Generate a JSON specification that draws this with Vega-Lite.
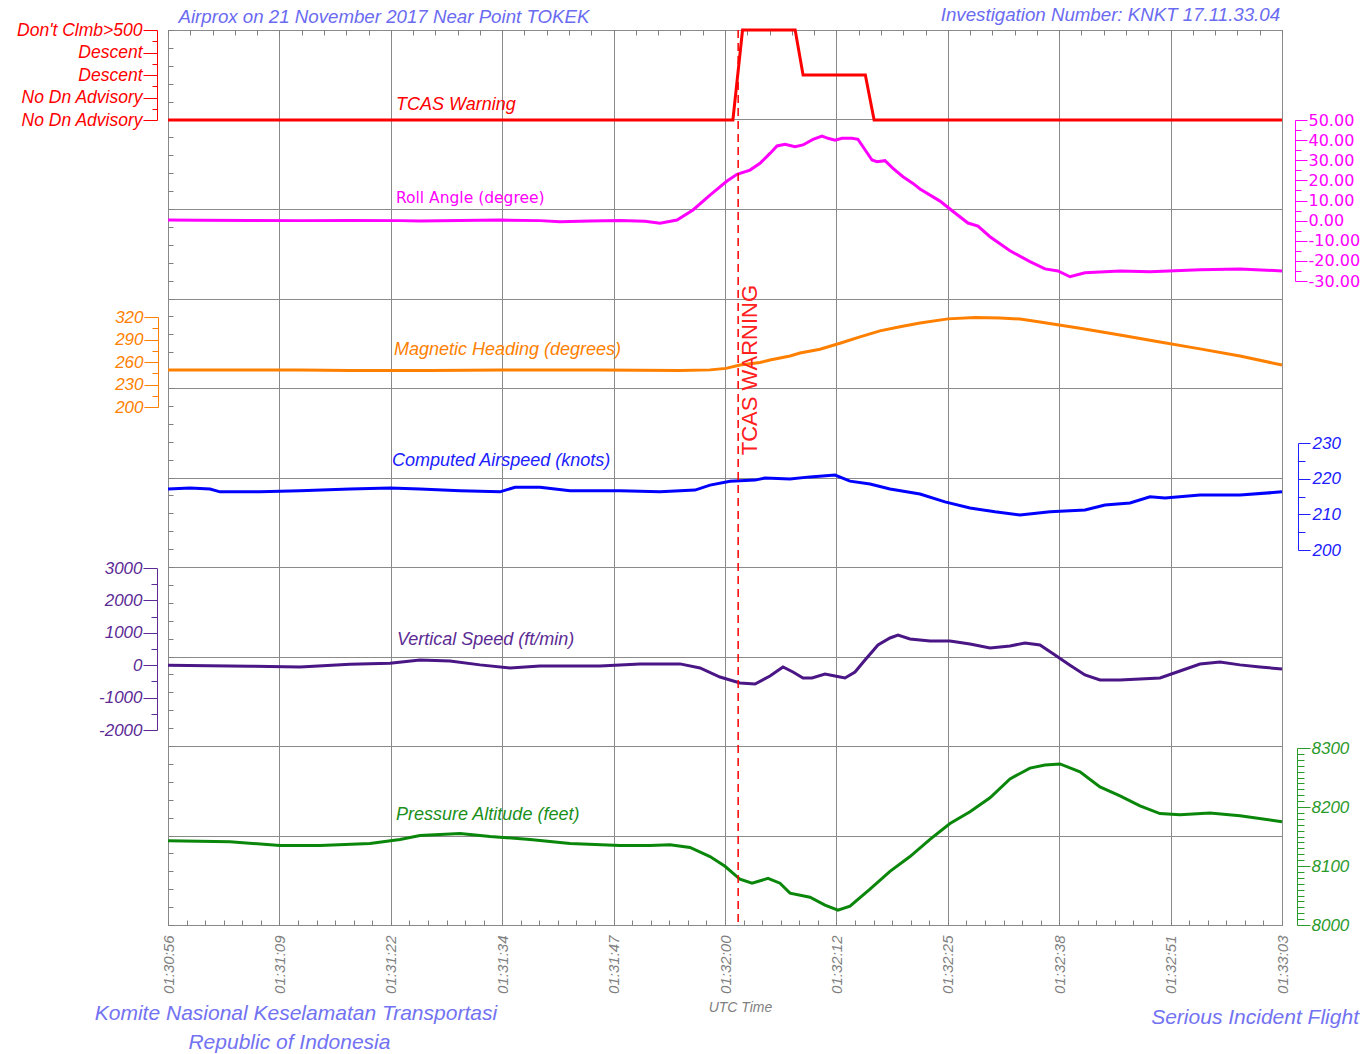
{
  "$schema": "https://vega.github.io/schema/vega-lite/v6.json",
  "width": 1114,
  "height": 895,
  "autosize": {"type": "none"},
  "padding": {"left": 168, "top": 30, "right": 84, "bottom": 129},
  "background": "white",
  "config": {
    "view": {"stroke": "#808080", "strokeWidth": 1},
    "axis": {"labelFont": "Liberation Sans", "titleFont": "Liberation Sans", "labelOverlap": false, "labelFlush": false, "grid": false, "title": null},
    "text": {"font": "Liberation Sans"}
  },
  "datasets": {
    "tcas": [{"t":0,"v":0},{"t":64.4,"v":0},{"t":65.5,"v":4},{"t":71.5,"v":4},{"t":72.4,"v":2},{"t":79.5,"v":2},{"t":80.5,"v":0},{"t":127,"v":0}],
    "roll": [{"t":0,"v":0.3},{"t":3.65,"v":0.2},{"t":9.35,"v":0.1},{"t":15.05,"v":0},{"t":20.75,"v":0.1},{"t":26.45,"v":0},{"t":28.73,"v":-0.2},{"t":33.29,"v":0.1},{"t":37.85,"v":0.3},{"t":42.41,"v":0},{"t":44.69,"v":-0.5},{"t":48.11,"v":-0.2},{"t":51.53,"v":0.1},{"t":54.38,"v":-0.3},{"t":56.09,"v":-1.3},{"t":58.03,"v":0.3},{"t":59.85,"v":5.3},{"t":61.79,"v":12.7},{"t":63.73,"v":19.7},{"t":64.87,"v":23},{"t":66.35,"v":25.1},{"t":67.49,"v":28.5},{"t":68.63,"v":33.4},{"t":69.43,"v":37.1},{"t":70.34,"v":37.9},{"t":71.48,"v":36.7},{"t":72.39,"v":37.6},{"t":73.53,"v":40.4},{"t":74.56,"v":42},{"t":75.24,"v":40.9},{"t":76.04,"v":40},{"t":76.84,"v":40.9},{"t":77.98,"v":40.9},{"t":78.66,"v":40.4},{"t":79.23,"v":36.7},{"t":80.26,"v":30.1},{"t":80.83,"v":29.3},{"t":81.74,"v":29.8},{"t":82.65,"v":26},{"t":83.79,"v":21.8},{"t":84.93,"v":18.5},{"t":85.73,"v":15.7},{"t":88.01,"v":9.7},{"t":89.72,"v":3.8},{"t":91.2,"v":-1.2},{"t":92.34,"v":-2.7},{"t":93.71,"v":-8},{"t":95.99,"v":-15},{"t":98.27,"v":-20.4},{"t":99.98,"v":-24},{"t":101.46,"v":-25},{"t":102.83,"v":-27.9},{"t":104.54,"v":-25.9},{"t":108.53,"v":-25},{"t":111.95,"v":-25.4},{"t":117.65,"v":-24.4},{"t":122.21,"v":-24},{"t":127,"v":-25}],
    "heading": [{"t":0,"v":249.3},{"t":15.05,"v":249.3},{"t":20.75,"v":248.7},{"t":29.87,"v":248.7},{"t":37.85,"v":249.3},{"t":49.25,"v":249.3},{"t":58.37,"v":248.7},{"t":61.79,"v":249.5},{"t":63.61,"v":251.5},{"t":65.21,"v":256},{"t":67.49,"v":259.3},{"t":68.63,"v":262.7},{"t":70.91,"v":268},{"t":72.05,"v":272},{"t":74.33,"v":277},{"t":76.61,"v":285},{"t":78.89,"v":293.5},{"t":81.17,"v":301.5},{"t":83.45,"v":307},{"t":85.73,"v":312},{"t":88.92,"v":317.5},{"t":92,"v":319.3},{"t":94.85,"v":318.7},{"t":97.13,"v":317.3},{"t":99.41,"v":313.3},{"t":103.97,"v":305},{"t":108.53,"v":296},{"t":113.09,"v":286.7},{"t":117.65,"v":277.5},{"t":122.21,"v":268},{"t":127,"v":256}],
    "airspeed": [{"t":0,"v":217.1},{"t":2.51,"v":217.4},{"t":4.79,"v":217.1},{"t":5.93,"v":216.3},{"t":10.49,"v":216.3},{"t":15.05,"v":216.6},{"t":20.75,"v":217.1},{"t":25.31,"v":217.4},{"t":28.73,"v":217.1},{"t":33.29,"v":216.6},{"t":37.85,"v":216.3},{"t":39.56,"v":217.6},{"t":42.41,"v":217.6},{"t":45.83,"v":216.6},{"t":51.53,"v":216.6},{"t":56.09,"v":216.3},{"t":60.08,"v":216.8},{"t":61.79,"v":218.2},{"t":64.07,"v":219.3},{"t":66.92,"v":219.6},{"t":68.06,"v":220.2},{"t":70.91,"v":219.9},{"t":73.19,"v":220.5},{"t":76.04,"v":221},{"t":77.75,"v":219.3},{"t":80.03,"v":218.5},{"t":82.31,"v":217.1},{"t":85.73,"v":215.7},{"t":88.58,"v":213.5},{"t":91.43,"v":211.8},{"t":94.28,"v":210.7},{"t":97.13,"v":209.8},{"t":100.55,"v":210.7},{"t":104.54,"v":211.2},{"t":106.82,"v":212.6},{"t":109.67,"v":213.2},{"t":111.95,"v":214.9},{"t":113.66,"v":214.6},{"t":117.65,"v":215.4},{"t":122.21,"v":215.4},{"t":127,"v":216.3}],
    "vs": [{"t":0,"v":0},{"t":9.35,"v":-30},{"t":15.05,"v":-55},{"t":20.75,"v":30},{"t":25.31,"v":60},{"t":28.73,"v":160},{"t":32.15,"v":130},{"t":35.57,"v":10},{"t":39.0,"v":-86},{"t":42.41,"v":-25},{"t":49.25,"v":-25},{"t":53.81,"v":40},{"t":58.37,"v":40},{"t":60.65,"v":-86},{"t":62.93,"v":-364},{"t":65.21,"v":-549},{"t":66.92,"v":-580},{"t":68.63,"v":-333},{"t":70.11,"v":-55},{"t":71.25,"v":-210},{"t":72.39,"v":-395},{"t":73.42,"v":-395},{"t":74.9,"v":-272},{"t":76.04,"v":-333},{"t":77.18,"v":-395},{"t":78.32,"v":-210},{"t":79.46,"v":160},{"t":80.94,"v":623},{"t":82.31,"v":840},{"t":83.22,"v":932},{"t":84.59,"v":810},{"t":86.87,"v":747},{"t":89.15,"v":747},{"t":91.43,"v":654},{"t":93.71,"v":531},{"t":95.99,"v":593},{"t":97.7,"v":685},{"t":99.41,"v":623},{"t":101.12,"v":315},{"t":102.83,"v":0},{"t":104.54,"v":-302},{"t":106.25,"v":-457},{"t":108.53,"v":-457},{"t":110.81,"v":-426},{"t":113.09,"v":-395},{"t":115.37,"v":-180},{"t":117.65,"v":37},{"t":119.93,"v":100},{"t":122.21,"v":10},{"t":124.49,"v":-55},{"t":127,"v":-117}],
    "alt": [{"t":0,"v":8143},{"t":7.07,"v":8141},{"t":12.77,"v":8134.8},{"t":17.33,"v":8134.8},{"t":23.03,"v":8138},{"t":26.45,"v":8145},{"t":28.73,"v":8151.7},{"t":33.29,"v":8155},{"t":36.71,"v":8150},{"t":41.27,"v":8145},{"t":45.83,"v":8138},{"t":51.53,"v":8134.8},{"t":54.95,"v":8134.8},{"t":57.23,"v":8136},{"t":59.51,"v":8131.5},{"t":61.79,"v":8116},{"t":63.5,"v":8099.5},{"t":65.21,"v":8077.5},{"t":66.58,"v":8070.8},{"t":68.4,"v":8079},{"t":69.77,"v":8070.8},{"t":70.91,"v":8054},{"t":73.19,"v":8047},{"t":74.9,"v":8033.7},{"t":76.38,"v":8025},{"t":77.75,"v":8032},{"t":80.03,"v":8060.7},{"t":82.31,"v":8091},{"t":84.59,"v":8116},{"t":86.87,"v":8145},{"t":89.15,"v":8172},{"t":91.43,"v":8192},{"t":93.71,"v":8215.7},{"t":95.99,"v":8247.7},{"t":98.27,"v":8266},{"t":99.98,"v":8271},{"t":101.69,"v":8273},{"t":103.97,"v":8259.6},{"t":106.25,"v":8234},{"t":108.53,"v":8219},{"t":110.81,"v":8202},{"t":113.09,"v":8188.8},{"t":115.37,"v":8187},{"t":118.79,"v":8190},{"t":122.21,"v":8185},{"t":127,"v":8175}],
    "labels": [
      {"label":"TCAS Warning","series":"tcas","gx":12.28,"gy":45.81},
      {"label":"Magnetic Heading (degrees)","series":"heading","gx":12.17,"gy":32.12},
      {"label":"Computed Airspeed (knots)","series":"airspeed","gx":12.06,"gy":25.92},
      {"label":"Vertical Speed (ft/min)","series":"vs","gx":12.33,"gy":15.92},
      {"label":"Pressure Altitude (feet)","series":"alt","gx":12.28,"gy":6.15}
    ],
    "header": [
      {"label":"Airprox on 21 November 2017 Near Point TOKEK","gx":11.63,"gy":50.73},
      {"label":"Investigation Number: KNKT 17.11.33.04","gx":50.76,"gy":50.84}
    ],
    "footer": [
      {"label":"Komite Nasional Keselamatan Transportasi","gx":6.89,"gy":-4.97},
      {"label":"Republic of Indonesia","gx":6.54,"gy":-6.59},
      {"label":"Serious Incident Flight","gx":58.55,"gy":-5.2}
    ]
  },
  "layer": [
    {
      "data": {"values": [{"gx": 0, "gy": 0}]},
      "mark": {"type": "point", "opacity": 0},
      "encoding": {
        "x": {"field": "gx", "type": "quantitative",
          "scale": {"domain": [0, 60], "nice": false, "zero": false},
          "axis": {"orient": "bottom",
            "values": [0,1,2,3,4,5,6,7,8,9,10,11,12,13,14,15,16,17,18,19,20,21,22,23,24,25,26,27,28,29,30,31,32,33,34,35,36,37,38,39,40,41,42,43,44,45,46,47,48,49,50,51,52,53,54,55,56,57,58,59,60],
            "grid": true, "gridColor": "#8a8a8a", "gridWidth": 1,
            "gridOpacity": {"condition": {"test": "datum.value % 6 === 0", "value": 1}, "value": 0},
            "domain": false, "tickSize": -5, "tickColor": "#808080",
            "labelExpr": "datum.value % 6 === 0 ? ['01:30:56','01:31:09','01:31:22','01:31:34','01:31:47','01:32:00','01:32:12','01:32:25','01:32:38','01:32:51','01:33:03'][datum.value / 6] : ''",
            "labelAngle": -90, "labelAlign": "right", "labelBaseline": "middle", "labelPadding": 15,
            "labelColor": "#7f7f7f", "labelFontStyle": "italic", "labelFontSize": 15,
            "title": "UTC Time", "titleFontSize": 14, "titleColor": "#7f7f7f", "titleFontStyle": "italic", "titleFontWeight": "normal", "titlePadding": 7, "titleX": 572}},
        "y": {"field": "gy", "type": "quantitative",
          "scale": {"domain": [0, 50], "nice": false, "zero": false},
          "axis": {"orient": "left",
            "values": [0,1,2,3,4,5,6,7,8,9,10,11,12,13,14,15,16,17,18,19,20,21,22,23,24,25,26,27,28,29,30,31,32,33,34,35,36,37,38,39,40,41,42,43,44,45,46,47,48,49,50],
            "grid": true, "gridColor": "#8a8a8a", "gridWidth": 1,
            "gridOpacity": {"condition": {"test": "datum.value % 5 === 0", "value": 1}, "value": 0},
            "domain": false, "tickSize": -5, "tickColor": "#808080", "labels": false}}
      }
    },
    {
      "data": {"values": [{"gx": 0, "gy": 0}]},
      "mark": {"type": "point", "opacity": 0},
      "encoding": {
        "x": {"field": "gx", "type": "quantitative",
          "scale": {"domain": [0, 50], "nice": false, "zero": false},
          "axis": {"orient": "top",
            "values": [0,1,2,3,4,5,6,7,8,9,10,11,12,13,14,15,16,17,18,19,20,21,22,23,24,25,26,27,28,29,30,31,32,33,34,35,36,37,38,39,40,41,42,43,44,45,46,47,48,49,50],
            "domain": false, "tickSize": -5, "tickColor": "#808080", "labels": false}},
        "y": {"field": "gy", "type": "quantitative", "scale": {"domain": [0, 50], "nice": false, "zero": false}, "axis": null}
      }
    },
    {
      "data": {"name": "tcas"},
      "mark": {"type": "line", "color": "#ff0000", "strokeWidth": 3},
      "encoding": {
        "x": {"field": "t", "type": "quantitative", "scale": {"domain": [0, 127], "nice": false, "zero": false}, "axis": null},
        "y": {"field": "v", "type": "quantitative",
          "scale": {"domain": [0, 4], "range": [90, 0], "nice": false, "zero": false},
          "axis": {"orient": "left", "offset": 11, "values": [0,0.5,1,1.5,2,2.5,3,3.5,4],
            "labelExpr": "datum.value % 1 === 0 ? ['No Dn Advisory','No Dn Advisory','Descent','Descent',\"Don't Clmb>500\"][datum.value] : ''",
            "tickSize": {"condition": {"test": "datum.value % 1 === 0", "value": 14}, "value": 5},
            "labelPadding": 1, "domainColor": "#ff0000", "tickColor": "#ff0000", "labelColor": "#ff0000",
            "labelFontStyle": "italic", "labelFontSize": 17.5, "labelBaseline": "middle"}}
      }
    },
    {
      "data": {"name": "roll"},
      "mark": {"type": "line", "color": "#ff00ff", "strokeWidth": 3},
      "encoding": {
        "x": {"field": "t", "type": "quantitative", "scale": {"domain": [0, 127], "nice": false, "zero": false}, "axis": null},
        "y": {"field": "v", "type": "quantitative",
          "scale": {"domain": [-30, 50], "range": [251, 90], "nice": false, "zero": false},
          "axis": {"orient": "right", "offset": 13, "values": [-30,-25,-20,-15,-10,-5,0,5,10,15,20,25,30,35,40,45,50],
            "labelExpr": "datum.value % 10 === 0 ? (datum.value < 0 ? '-' : '') + format(abs(datum.value), '.2f') : ''",
            "tickSize": {"condition": {"test": "datum.value % 10 === 0", "value": 12}, "value": 6},
            "labelPadding": 1, "domainColor": "#ff00ff", "tickColor": "#ff00ff", "labelColor": "#ff00ff",
            "labelFont": "DejaVu Sans", "labelFontSize": 16, "labelBaseline": "middle"}}
      }
    },
    {
      "data": {"name": "heading"},
      "mark": {"type": "line", "color": "#ff8000", "strokeWidth": 3},
      "encoding": {
        "x": {"field": "t", "type": "quantitative", "scale": {"domain": [0, 127], "nice": false, "zero": false}, "axis": null},
        "y": {"field": "v", "type": "quantitative",
          "scale": {"domain": [200, 320], "range": [377, 287], "nice": false, "zero": false},
          "axis": {"orient": "left", "offset": 10, "values": [200,215,230,245,260,275,290,305,320],
            "labelExpr": "(datum.value - 200) % 30 === 0 ? '' + datum.value : ''",
            "tickSize": {"condition": {"test": "(datum.value - 200) % 30 === 0", "value": 14}, "value": 6},
            "labelPadding": 1, "domainColor": "#ff8000", "tickColor": "#ff8000", "labelColor": "#ff8000",
            "labelFontStyle": "italic", "labelFontSize": 17, "labelBaseline": "middle"}}
      }
    },
    {
      "data": {"name": "airspeed"},
      "mark": {"type": "line", "color": "#0000ff", "strokeWidth": 3},
      "encoding": {
        "x": {"field": "t", "type": "quantitative", "scale": {"domain": [0, 127], "nice": false, "zero": false}, "axis": null},
        "y": {"field": "v", "type": "quantitative",
          "scale": {"domain": [200, 230], "range": [520, 413], "nice": false, "zero": false},
          "axis": {"orient": "right", "offset": 16, "values": [200,205,210,215,220,225,230],
            "labelExpr": "datum.value % 10 === 0 ? '' + datum.value : ''",
            "tickSize": {"condition": {"test": "datum.value % 10 === 0", "value": 12}, "value": 7},
            "labelPadding": 2, "domainColor": "#2020ff", "tickColor": "#2020ff", "labelColor": "#2020ff",
            "labelFontStyle": "italic", "labelFontSize": 17, "labelBaseline": "middle"}}
      }
    },
    {
      "data": {"name": "vs"},
      "mark": {"type": "line", "color": "#4a1585", "strokeWidth": 3},
      "encoding": {
        "x": {"field": "t", "type": "quantitative", "scale": {"domain": [0, 127], "nice": false, "zero": false}, "axis": null},
        "y": {"field": "v", "type": "quantitative",
          "scale": {"domain": [-2000, 3000], "range": [700, 538], "nice": false, "zero": false},
          "axis": {"orient": "left", "offset": 11, "values": [-2000,-1500,-1000,-500,0,500,1000,1500,2000,2500,3000],
            "labelExpr": "datum.value % 1000 === 0 ? (datum.value < 0 ? '-' + abs(datum.value) : '' + datum.value) : ''",
            "tickSize": {"condition": {"test": "datum.value % 1000 === 0", "value": 14}, "value": 6},
            "labelPadding": 1, "domainColor": "#5b2a95", "tickColor": "#5b2a95", "labelColor": "#5b2a95",
            "labelFontStyle": "italic", "labelFontSize": 17, "labelBaseline": "middle"}}
      }
    },
    {
      "data": {"name": "alt"},
      "mark": {"type": "line", "color": "#0a870a", "strokeWidth": 3},
      "encoding": {
        "x": {"field": "t", "type": "quantitative", "scale": {"domain": [0, 127], "nice": false, "zero": false}, "axis": null},
        "y": {"field": "v", "type": "quantitative",
          "scale": {"domain": [8000, 8300], "range": [895, 718], "nice": false, "zero": false},
          "axis": {"orient": "right", "offset": 15, "values": [8000,8010,8020,8030,8040,8050,8060,8070,8080,8090,8100,8110,8120,8130,8140,8150,8160,8170,8180,8190,8200,8210,8220,8230,8240,8250,8260,8270,8280,8290,8300],
            "labelExpr": "datum.value % 100 === 0 ? '' + datum.value : ''",
            "tickSize": {"condition": {"test": "datum.value % 100 === 0", "value": 13}, "value": 7},
            "labelPadding": 1, "domainColor": "#2a9a2a", "tickColor": "#2a9a2a", "labelColor": "#2a9a2a",
            "labelFontStyle": "italic", "labelFontSize": 17, "labelBaseline": "middle"}}
      }
    },
    {
      "data": {"values": [{"t": 65.0}]},
      "mark": {"type": "rule", "color": "#ff0000", "strokeWidth": 1.5, "strokeDash": [8, 5]},
      "encoding": {
        "x": {"field": "t", "type": "quantitative", "scale": {"domain": [0, 127], "nice": false, "zero": false}, "axis": null}
      }
    },
    {
      "data": {"name": "labels"},
      "mark": {"type": "text", "align": "left", "baseline": "middle", "fontStyle": "italic", "fontSize": 18},
      "encoding": {
        "x": {"field": "gx", "type": "quantitative", "scale": {"domain": [0, 60], "nice": false, "zero": false}, "axis": null},
        "y": {"field": "gy", "type": "quantitative", "scale": {"domain": [0, 50], "nice": false, "zero": false}, "axis": null},
        "text": {"field": "label"},
        "color": {"field": "series", "type": "nominal", "legend": null,
          "scale": {"domain": ["tcas", "heading", "airspeed", "vs", "alt"], "range": ["#ff0000", "#ff8000", "#2020ff", "#5b2a95", "#1a8f1a"]}}
      }
    },
    {
      "data": {"values": [{"label": "Roll Angle (degree)", "gx": 12.28, "gy": 40.61}]},
      "mark": {"type": "text", "align": "left", "baseline": "middle", "font": "DejaVu Sans", "fontSize": 15.5, "color": "#ff00ff"},
      "encoding": {
        "x": {"field": "gx", "type": "quantitative", "scale": {"domain": [0, 60], "nice": false, "zero": false}, "axis": null},
        "y": {"field": "gy", "type": "quantitative", "scale": {"domain": [0, 50], "nice": false, "zero": false}, "axis": null},
        "text": {"field": "label"}
      }
    },
    {
      "data": {"values": [{"label": "TCAS WARNING", "gx": 31.35, "gy": 31.0}]},
      "mark": {"type": "text", "align": "center", "baseline": "middle", "fontSize": 22, "angle": 270, "color": "#ff2020"},
      "encoding": {
        "x": {"field": "gx", "type": "quantitative", "scale": {"domain": [0, 60], "nice": false, "zero": false}, "axis": null},
        "y": {"field": "gy", "type": "quantitative", "scale": {"domain": [0, 50], "nice": false, "zero": false}, "axis": null},
        "text": {"field": "label"}
      }
    },
    {
      "data": {"name": "header"},
      "mark": {"type": "text", "align": "center", "baseline": "middle", "fontSize": 18.7, "fontStyle": "italic", "color": "#6b6bf2"},
      "encoding": {
        "x": {"field": "gx", "type": "quantitative", "scale": {"domain": [0, 60], "nice": false, "zero": false}, "axis": null},
        "y": {"field": "gy", "type": "quantitative", "scale": {"domain": [0, 50], "nice": false, "zero": false}, "axis": null},
        "text": {"field": "label"}
      }
    },
    {
      "data": {"name": "footer"},
      "mark": {"type": "text", "align": "center", "baseline": "middle", "fontSize": 21, "fontStyle": "italic", "color": "#7272f2"},
      "encoding": {
        "x": {"field": "gx", "type": "quantitative", "scale": {"domain": [0, 60], "nice": false, "zero": false}, "axis": null},
        "y": {"field": "gy", "type": "quantitative", "scale": {"domain": [0, 50], "nice": false, "zero": false}, "axis": null},
        "text": {"field": "label"}
      }
    }
  ],
  "resolve": {"scale": {"x": "independent", "y": "independent"}, "axis": {"x": "independent", "y": "independent"}}
}
